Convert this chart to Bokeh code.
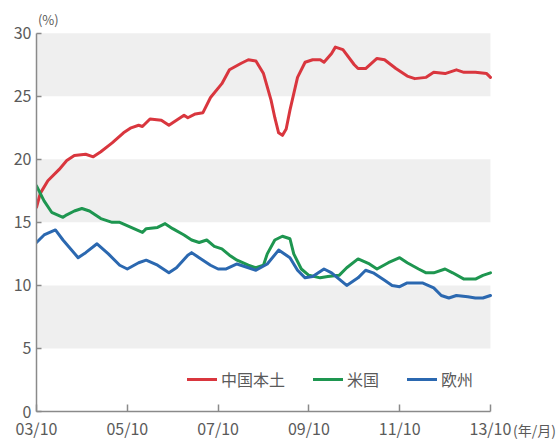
from bokeh.plotting import figure
from bokeh.models import BoxAnnotation, FixedTicker, Label, Legend, LegendItem, Range1d
from bokeh.embed import file_html
from bokeh.resources import INLINE

# ---- data ----
red_dates = ["2003-10", "2003-11", "2004-01", "2004-04", "2004-06", "2004-08", "2004-11", "2005-01",
             "2005-03", "2005-06", "2005-09", "2005-11", "2006-01", "2006-02", "2006-04", "2006-07",
             "2006-09", "2006-10", "2007-01", "2007-02", "2007-04", "2007-06", "2007-08", "2007-11",
             "2008-01", "2008-04", "2008-06", "2008-08", "2008-10", "2008-12", "2009-01", "2009-02",
             "2009-03", "2009-04", "2009-05", "2009-07", "2009-09", "2009-11", "2010-01", "2010-02",
             "2010-04", "2010-05", "2010-07", "2010-10", "2010-11", "2011-01", "2011-04", "2011-06",
             "2011-09", "2011-12", "2012-02", "2012-05", "2012-07", "2012-10", "2013-01", "2013-03",
             "2013-06", "2013-09", "2013-10"]
red_vals = [16.2, 17.3, 18.3, 19.2, 19.9, 20.3, 20.4, 20.2,
            20.6, 21.3, 22.1, 22.5, 22.7, 22.6, 23.2, 23.1,
            22.7, 22.9, 23.5, 23.3, 23.6, 23.7, 24.9, 26.0,
            27.1, 27.6, 27.9, 27.8, 26.8, 24.7, 23.3, 22.1,
            21.9, 22.4, 23.9, 26.5, 27.7, 27.9, 27.9, 27.7,
            28.4, 28.9, 28.7, 27.5, 27.2, 27.2, 28.0, 27.9,
            27.2, 26.6, 26.4, 26.5, 26.9, 26.8, 27.1, 26.9,
            26.9, 26.8, 26.5]

green_dates = ["2003-10", "2003-12", "2004-02", "2004-05", "2004-06", "2004-08", "2004-10", "2004-12",
               "2005-03", "2005-06", "2005-08", "2005-11", "2006-02", "2006-03", "2006-06", "2006-08",
               "2006-10", "2007-01", "2007-03", "2007-05", "2007-07", "2007-09", "2007-11", "2008-01",
               "2008-03", "2008-06", "2008-08", "2008-10", "2008-11", "2009-01", "2009-03", "2009-05",
               "2009-06", "2009-08", "2009-10", "2010-01", "2010-03", "2010-06", "2010-08", "2010-11",
               "2011-02", "2011-04", "2011-07", "2011-10", "2011-12", "2012-03", "2012-05", "2012-07",
               "2012-10", "2012-12", "2013-03", "2013-06", "2013-08", "2013-10"]
green_vals = [17.9, 16.7, 15.8, 15.4, 15.6, 15.9, 16.1, 15.9,
              15.3, 15.0, 15.0, 14.6, 14.2, 14.5, 14.6, 14.9,
              14.5, 14.0, 13.6, 13.4, 13.6, 13.1, 12.9, 12.4,
              12.0, 11.6, 11.4, 11.6, 12.5, 13.6, 13.9, 13.7,
              12.5, 11.3, 10.8, 10.6, 10.7, 10.8, 11.4, 12.1,
              11.7, 11.3, 11.8, 12.2, 11.8, 11.3, 11.0, 11.0,
              11.3, 11.0, 10.5, 10.5, 10.8, 11.0]

blue_dates = ["2003-10", "2003-12", "2004-03", "2004-05", "2004-09", "2004-11", "2005-02", "2005-05",
              "2005-08", "2005-10", "2006-01", "2006-03", "2006-06", "2006-09", "2006-11", "2007-02",
              "2007-03", "2007-05", "2007-08", "2007-10", "2007-12", "2008-03", "2008-05", "2008-08",
              "2008-11", "2009-02", "2009-05", "2009-07", "2009-09", "2009-11", "2010-02", "2010-04",
              "2010-06", "2010-08", "2010-11", "2011-01", "2011-03", "2011-06", "2011-08", "2011-10",
              "2011-12", "2012-02", "2012-04", "2012-07", "2012-09", "2012-11", "2013-01", "2013-04",
              "2013-06", "2013-08", "2013-10"]
blue_vals = [13.4, 14.0, 14.4, 13.6, 12.2, 12.6, 13.3, 12.5,
             11.6, 11.3, 11.8, 12.0, 11.6, 11.0, 11.4, 12.4,
             12.6, 12.2, 11.6, 11.3, 11.3, 11.7, 11.5, 11.2,
             11.7, 12.8, 12.2, 11.2, 10.6, 10.7, 11.3, 11.0,
             10.5, 10.0, 10.6, 11.2, 11.0, 10.4, 10.0, 9.9,
             10.2, 10.2, 10.2, 9.8, 9.2, 9.0, 9.2, 9.1,
             9.0, 9.0, 9.2]

series_names = ["中国本土", "米国", "欧州"]
series_colors = ["#d9363e", "#1e9650", "#2b68b0"]

x_tick_dates = ["2003-10", "2005-10", "2007-10", "2009-10", "2011-10", "2013-10"]
x_tick_labels = ["03/10", "05/10", "07/10", "09/10", "11/10", "13/10"]
y_ticks = [0, 5, 10, 15, 20, 25, 30]
band_ranges = [(5, 10), (15, 20), (25, 30)]
y_unit = "(%)"
x_unit = "(年/月)"


def to_x(s):
    yy, mm = s.split("-")
    return int(yy) + (int(mm) - 1) / 12.0


FONT = "Noto Sans CJK JP"
TXT = "#5a5a5a"
AX = "#8a8a8a"

x0 = to_x(x_tick_dates[0])
x1 = to_x(x_tick_dates[-1])
y_top = y_ticks[-1]

# frame: left 36px, right 534px (x1 lands at 490px), top 5px, bottom 411px
p = figure(width=558, height=445, output_backend="svg", toolbar_location=None,
           x_range=Range1d(x0, x1 + 0.97), y_range=Range1d(0, y_top + 2.2),
           min_border_left=36, min_border_right=24, min_border_top=5, min_border_bottom=34)
p.outline_line_color = None
p.grid.visible = False
p.background_fill_color = "white"

for lo, hi in band_ranges:
    p.add_layout(BoxAnnotation(left=x0, right=x1, bottom=lo, top=hi, fill_color="#efefef",
                               fill_alpha=1.0, line_color=None, level="underlay"))

renderers = []
for dates, vals, col in [(red_dates, red_vals, series_colors[0]),
                         (green_dates, green_vals, series_colors[1]),
                         (blue_dates, blue_vals, series_colors[2])]:
    r = p.line([to_x(d) for d in dates], vals, line_color=col, line_width=3,
               line_join="round", line_cap="round")
    renderers.append(r)

# axes
p.xaxis.ticker = FixedTicker(ticks=[to_x(d) for d in x_tick_dates])
p.xaxis.major_label_overrides = {to_x(d): lab for d, lab in zip(x_tick_dates, x_tick_labels)}
p.yaxis.ticker = FixedTicker(ticks=y_ticks)
p.xaxis.bounds = (x0, x1)
p.yaxis.bounds = (0, y_top)
p.xaxis.minor_tick_line_color = None
p.yaxis.minor_tick_line_color = None
for ax in (p.xaxis, p.yaxis):
    ax.axis_line_color = AX
    ax.axis_line_width = 1.5
    ax.major_tick_line_color = AX
    ax.major_tick_line_width = 1.5
    ax.major_tick_out = 0
    ax.major_label_text_font = FONT
    ax.major_label_text_font_size = "16px"
    ax.major_label_text_color = TXT
p.xaxis.major_tick_in = 7
p.yaxis.major_tick_in = 5
p.xaxis.major_label_standoff = 4
p.yaxis.major_label_standoff = 5

# x unit as the axis label, at the right end of the frame, raised onto the tick-label row
p.xaxis.axis_label = x_unit
p.xaxis.axis_label_align = "end"
p.xaxis.axis_label_standoff = -23
p.xaxis.axis_label_text_font = FONT
p.xaxis.axis_label_text_font_size = "14px"
p.xaxis.axis_label_text_font_style = "normal"
p.xaxis.axis_label_text_color = TXT

# y unit
p.add_layout(Label(x=x0 + 0.26, y=31.1, text=y_unit, text_font=FONT,
                   text_font_size="13px", text_color=TXT, text_align="center",
                   text_baseline="middle"))

legend = Legend(items=[LegendItem(label=n, renderers=[r]) for n, r in zip(series_names, renderers)],
                orientation="horizontal", location=(151, 20),
                background_fill_alpha=0, border_line_color=None,
                label_text_font=FONT, label_text_font_size="16px", label_text_color=TXT,
                glyph_width=30, label_standoff=4, spacing=28, padding=0, margin=0)
p.add_layout(legend)

open("out.html", "w").write(file_html(p, INLINE))
